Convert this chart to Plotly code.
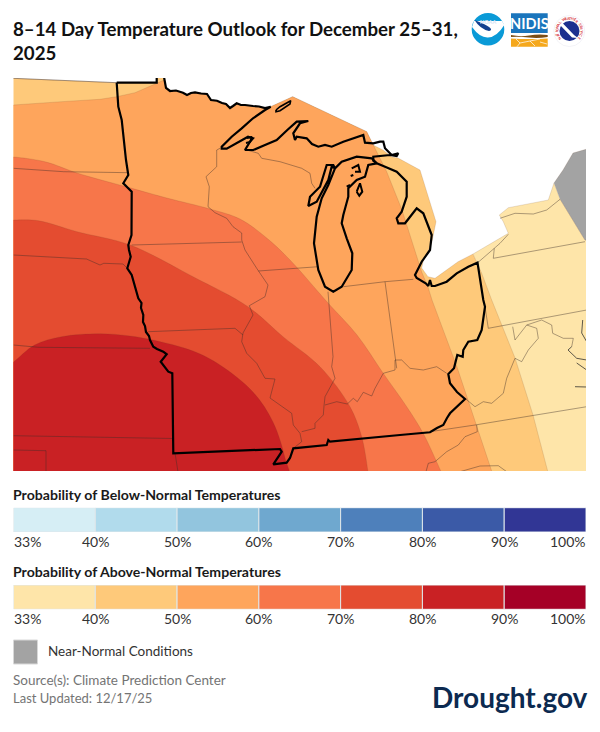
import math
import plotly.graph_objects as go

# legend scales
scale_labels = ["33%", "40%", "50%", "60%", "70%", "80%", "90%", "100%"]
scale_steps = [1, 1, 1, 1, 1, 1, 1]
below_colors = ["#d6eef5", "#b1dbec", "#92c5de", "#6fa8cf", "#4e80bb", "#3b5aa7", "#313695"]
above_colors = ["#fee5a9", "#fec97a", "#fea55c", "#f7764a", "#e44c30", "#c92124", "#a50026"]
near_normal_color = "#a3a3a3"

# north shore of Minnesota, shared by the outlook areas
mn_shore = [(156.7, 72.7), (161.7, 71.7), (164, 77), (166, 88), (170, 91), (176, 90.5), (183, 92.7), (187, 95), (191, 93),
            (195, 92.3), (201, 93.5), (207, 94), (209, 97), (211, 100), (217, 100.7), (222, 103), (226, 104), (230, 108),
            (233, 106), (236.7, 103.3), (241, 105), (245, 105), (253, 106), (259, 106.5), (265, 108), (270.7, 106.7)]

area_33 = [(473, 254), (508.3, 233.3), (503.3, 221.7), (499.3, 215), (508.3, 207.7), (548.3, 200), (554, 183),
           (560, 199), (585, 240), (600, 243), (600, 480), (500, 480), (480, 270)]
area_40 = [(5, 78), (13, 78.3), (116.7, 82.7), (156.7, 82.7)] + mn_shore + [
    (292.7, 96.7), (366.7, 131.7), (373, 145), (383, 150), (392, 157), (398, 158), (420, 170), (436, 221.7),
    (431.7, 243), (423, 262), (421.7, 268), (428, 276.7), (435, 278.3), (458, 261.7), (473, 254), (481.7, 273.3),
    (491.7, 300), (515, 358), (533, 415), (548, 470), (550, 480), (5, 480)]
area_50 = [(5, 106), (13.5, 105), (61.5, 101.7), (100, 99.3), (116.7, 96.7), (135, 92.7), (156.7, 83.3), (164, 80),
           (166, 88)] + mn_shore[4:] + [
    (292.7, 96.7), (366.7, 131.7), (386.7, 171.7), (402, 210), (421.7, 272), (428, 287), (432, 300), (457, 367),
    (492, 472), (492, 480), (5, 480)]
area_60 = [(5, 157), (13.5, 157), (46, 162), (77, 173), (131.7, 188.3), (166.7, 198), (210, 209), (240, 219),
           (266.7, 238), (290, 260), (328, 303), (357, 335), (383, 373), (406.7, 406.7), (423, 433), (441.7, 473),
           (445, 480), (5, 480)]
area_70 = [(5, 220), (13.5, 220), (38.5, 220.7), (77, 231.7), (130, 245), (193, 276.7), (248, 306.7), (283, 336.7),
           (320, 366.7), (350, 406.7), (361.7, 436.7), (368, 471.7), (369, 480), (5, 480)]
area_80 = [(5, 368), (13.5, 362), (34.6, 345), (61.5, 336.7), (100, 333.7), (130, 336), (153, 340), (193, 351),
           (220, 365), (253, 392), (273, 422), (285, 458), (288, 480), (5, 480)]
near_normal_area = [(554, 183), (563, 170), (573, 153), (586, 149.3), (600, 149), (600, 243), (585, 240), (560, 199)]

# thin state and shore lines
state_lines = [
    [(13, 78.3), (117, 82.7)],
    [(13.5, 168.3), (63.5, 171.7), (129, 172.7)],
    [(220, 148.3), (216.7, 150), (216.7, 166.7), (206, 176.7), (209.3, 186.7), (208, 206.7), (215, 212.7),
     (226.7, 218.3), (233, 226.7), (241.7, 233), (241.7, 240), (245, 250), (256.7, 268.3), (268, 285),
     (265, 296.7), (249.3, 305.7), (253, 315), (243, 333), (241.7, 341.7), (246.7, 353.3), (256.7, 363.3),
     (265, 378.3), (275, 379), (270, 398), (291.7, 413.3), (293.3, 425), (300, 433.3), (301.7, 441.7), (293.3, 448.3)],
    [(131.7, 245), (241.7, 242)],
    [(148.3, 331.7), (235, 328.3), (243, 335)],
    [(13.5, 255), (86.5, 259), (100, 265), (103.8, 263.3), (123, 264), (129, 270)],
    [(13.5, 345), (38.5, 347.3), (150, 348.3)],
    [(13.5, 435.7), (173, 438.5)],
    [(13.5, 450), (46, 450.7), (46, 472)],
    [(175, 453), (178, 472)],
    [(328, 291.7), (330, 320), (333, 356.7), (331.7, 366.7), (335, 378.3), (325, 396.7), (324, 406)],
    [(258.3, 271), (318.3, 266.7)],
    [(343.3, 286.7), (385, 281.7), (413.3, 279.3)],
    [(385, 281.7), (395, 360), (396.7, 368.3)],
    [(246.7, 150), (258.3, 153.3), (261.7, 158.3), (280, 161.7), (301.7, 168.3), (310, 173.3), (311.7, 183.3), (315, 188.3)],
    [(325, 405), (336.7, 401.7), (347.3, 404), (353.3, 398.3), (357.3, 401.7), (363.3, 392.3), (371.7, 396),
     (375, 388.3), (383.3, 373.3), (395, 370), (395, 360), (401.7, 360), (410, 368.3), (423.3, 370), (436.7, 366.7),
     (446.7, 373.3)],
    [(324, 406), (323.3, 415), (315, 423.3), (315, 428.3), (301.7, 431.7)],
    [(465, 398.3), (475, 406.7), (483.3, 401.7), (491.7, 403.3), (503.3, 393.3), (506.7, 378.3), (515, 358.3),
     (521.7, 361.7), (528.3, 350), (538.3, 338.3), (536.7, 328.3), (526.7, 325), (515, 340), (512.7, 326.7)],
    [(485, 306.7), (488.3, 328.3), (586.7, 310)],
    [(526.7, 325), (541.7, 320), (551.7, 325), (552.7, 333.3), (563.3, 338.3), (573.3, 338.3), (571.7, 346.7)],
    [(430, 431.7), (475, 425), (586.7, 406.7)],
    [(476.7, 425), (477.3, 431.7), (465, 436.7), (458.3, 445), (446.7, 451.7), (435, 461.7), (428.3, 463.3), (426, 471.7)],
    [(460, 471.7), (480, 466), (498.3, 465.7), (506.7, 471.7)],
    [(493.3, 258.3), (585, 241.7)],
    [(493.3, 258.3), (494.3, 248.3), (500, 243.3), (508.3, 234.3)],
    [(477.7, 262.7), (486.7, 255), (494.3, 248.3)],
    [(500, 218.3), (515, 213.3), (533.3, 214), (546.7, 210), (560, 199.3)],
]
east_coast_lines = [
    [(571.7, 346.7), (568, 350), (576.7, 358.3), (586.7, 360)],
    [(582.7, 320), (581.7, 333), (586.7, 341.7)],
    [(576.7, 363), (586.7, 370)],
    [(575, 386.7), (586.7, 387)],
]

# heavy outline of the Midwest states
midwest_outline = [(116.7, 82.7), (156.7, 82.7)] + mn_shore + [
    (265, 110), (253, 118.3), (241.7, 128.3), (231.7, 136.7), (221.7, 146.7), (221.7, 148.7), (226.7, 148.7),
    (243.3, 140), (248, 136.7), (253, 138.3), (250, 141.7), (245, 150), (253.3, 150), (265, 145), (276.7, 140),
    (287.3, 130), (296.7, 121.7), (308.3, 121), (300, 123.3), (293.3, 133.3), (295, 140), (296.7, 136.7),
    (306.7, 138.3), (312, 144), (318.3, 146.7), (325, 145), (331.7, 146.7), (343.3, 141.7), (363.3, 135), (365, 142.7),
    (373.3, 143.3), (380, 141.7), (383.3, 141.7), (385, 148.3), (391.7, 155), (398.3, 153.3), (396.7, 156), (390, 155),
    (373.3, 156.7), (373.3, 160.7), (376.7, 163.3), (383.3, 166), (396.7, 171.7), (406.7, 181.7), (406.7, 196.7),
    (401.7, 211.7), (396.7, 218.3), (398.3, 223.3), (405, 223.3), (416.7, 208.3), (423.3, 213.3), (431.7, 235),
    (430, 250), (421.7, 261.7), (415, 275), (416.7, 278), (425.7, 283.3), (428.3, 286), (430, 280), (431.7, 286),
    (435, 286), (446.7, 281.7), (456.7, 273.3), (468.3, 266.7), (477.5, 262.7), (483.3, 300), (485, 306.7),
    (481.7, 330), (477.3, 340), (468.3, 341.7), (463.3, 350), (462.7, 356.7), (457.3, 355), (454, 368.3),
    (448.3, 374), (450, 383.3), (457, 392), (465, 399), (450, 413.3), (447, 418), (443.3, 425), (437, 428), (430, 432.3),
    (400, 435), (330, 441.7), (328.3, 440), (326.7, 445), (293.3, 448.3), (290, 458), (286.7, 462.7), (273.3, 464.3),
    (281.7, 451.7), (280, 449), (173.3, 453.3), (172.3, 373.3), (168.3, 371.7), (160.7, 361.7), (166.7, 354.3),
    (163.3, 351.7), (157, 349), (153.3, 346.7), (150, 340), (149, 336), (146, 332), (145, 326), (143, 322), (143.3, 315),
    (141, 308), (141.5, 303), (138.3, 298.3), (136, 290), (134, 282), (131.7, 275), (127.3, 268.3), (129, 262),
    (130.7, 256.7), (129, 250), (128.3, 245), (131.5, 235), (131.7, 191.7), (123.3, 183.3), (128.3, 175), (126, 160),
    (121.7, 120), (118.3, 106.7), (116.7, 82.7)]
lake_michigan = [(376.7, 163.3), (368.3, 165), (365, 176.7), (356.7, 180), (348.3, 188.3), (348.3, 196.7), (343.3, 215),
                 (341.7, 223.3), (346.7, 238.3), (352.3, 253.3), (351.7, 270), (341.7, 286.7), (333.3, 291.7),
                 (325, 286.7), (318.3, 270), (316.7, 260), (314, 243.3), (316.7, 216.7), (321.7, 198.3), (328.3, 185),
                 (335, 168.3), (331.7, 166.7), (328.3, 180), (316.7, 201.7), (308.3, 206), (310, 196.7), (320, 186.7),
                 (326.7, 165), (333.3, 165), (335, 168.3), (341.7, 161.7), (356.7, 156.7), (371.7, 158.3), (376.7, 163.3)]
isle_royale = [(276, 110), (280, 106.7), (290.7, 100.7), (290, 104), (280, 110.7), (276, 111.7), (276, 110)]
small_islands = [
    [(351.7, 168.3), (358.3, 165), (360, 171.7), (355, 171.7)],
    [(350.7, 176), (353.3, 175)],
    [(346.7, 186.7), (350, 185)],
    [(356.7, 191.7), (360, 183.3), (362.3, 191.7), (359.3, 195.7), (356.7, 191.7)],
    [(247, 138), (252, 137), (250, 142), (246, 143)],
]

# map axes run in picture pixels, since the outlines were traced from it
MAP_X = [13.5, 586]
MAP_Y = [471, 78]
PAGE_W, PAGE_H = 600, 732
FONT = "Lato"


def line_trace(points, color, width, shape="linear"):
    return go.Scatter(x=[p[0] for p in points], y=[p[1] for p in points], mode="lines",
                      line=dict(color=color, width=width, shape=shape), hoverinfo="skip", showlegend=False,
                      xaxis="x", yaxis="y")


def area_trace(points, color, shape="linear"):
    t = line_trace(points, "rgba(110,70,40,0.25)", 0.6, shape)
    t.fill = "toself"
    t.fillcolor = color
    return t


fig = go.Figure()

fig.add_trace(area_trace(area_33, above_colors[0]))
fig.add_trace(area_trace(near_normal_area, near_normal_color))
fig.add_trace(area_trace(area_40, above_colors[1]))
fig.add_trace(area_trace(area_50, above_colors[2]))
fig.add_trace(area_trace(area_60, above_colors[3], "spline"))
fig.add_trace(area_trace(area_70, above_colors[4], "spline"))
fig.add_trace(area_trace(area_80, above_colors[5], "spline"))

for seg in state_lines:
    fig.add_trace(line_trace(seg, "rgba(60,45,40,0.42)", 1))
for seg in east_coast_lines:
    fig.add_trace(line_trace(seg, "rgba(40,40,40,0.75)", 1))
fig.add_trace(line_trace(midwest_outline, "#000000", 2.2))
fig.add_trace(line_trace(lake_michigan, "#000000", 2.2))
fig.add_trace(line_trace(isle_royale, "#000000", 1.6))
for seg in small_islands:
    fig.add_trace(line_trace(seg, "#000000", 2))

# the two probability scales
for colors, xa, ya in [(below_colors, "x2", "y2"), (above_colors, "x3", "y3")]:
    fig.add_trace(go.Bar(x=scale_steps, y=[0] * len(scale_steps), base=list(range(len(scale_steps))),
                         orientation="h", width=1, marker=dict(color=colors, line=dict(color="#dfe7ea", width=1)),
                         hoverinfo="skip", showlegend=False, xaxis=xa, yaxis=ya))

# near-normal key, on the page axes
fig.add_trace(go.Scatter(x=[25.5], y=[652], mode="markers",
                         marker=dict(symbol="square", size=24, color=near_normal_color,
                                     line=dict(color="#d8d8d8", width=1)),
                         hoverinfo="skip", showlegend=False, xaxis="x4", yaxis="y4"))


def page_text(text, x, y, size, color, weight=400, anchor="left", angle=0):
    fig.add_annotation(text=text, x=x, y=y, xref="x4", yref="y4", xanchor=anchor, yanchor="middle", showarrow=False,
                       textangle=angle, font=dict(family=FONT, size=size, color=color, weight=weight),
                       borderpad=0, borderwidth=0)


page_text("Probability of Below-Normal Temperatures", 13, 494.5, 14.1, "#1a1a1a", 700)
page_text("Probability of Above-Normal Temperatures", 13, 571, 14.1, "#1a1a1a", 700)
for i, label in enumerate(scale_labels):
    anchor = "left" if i == 0 else "right" if i == len(scale_labels) - 1 else "center"
    for xa, y in [("x2", 541.7), ("x3", 618)]:
        fig.add_annotation(text=label, x=i, y=y, xref=xa, yref="y4", xanchor=anchor, yanchor="middle",
                           showarrow=False, borderpad=0, borderwidth=0,
                           font=dict(family=FONT, size=14, color="#333333"))
page_text("Near-Normal Conditions", 48, 650.5, 13.5, "#333333")
page_text("Source(s): Climate Prediction Center", 13, 680, 13.5, "#747474")
page_text("Last Updated: 12/17/25", 13, 698, 13, "#747474")
page_text("Drought.gov", 588, 697, 28, "#0c2a50", 700, anchor="right")

# logos
logo_shapes = [
    # NOAA
    dict(type="circle", x0=471.7, x1=504.3, y0=12.9, y1=45.5, fillcolor="#0a9ad7", line_width=0),
    dict(type="path", path="M472,27 Q480,38 488,37.5 Q497,37 504.3,25 L502,21 L474,21 Z", fillcolor="#ffffff", line_width=0),
    dict(type="path", path="M474.5,20 A16.3,16.3 0 0 1 501.5,20 Q497,29 489,31 Q480,29 474.5,20 Z", fillcolor="#12408f", line_width=0),
    # NIDIS
    dict(type="rect", x0=511, x1=547.7, y0=13.3, y1=46.7, fillcolor="#ffffff", line_width=0),
    dict(type="rect", x0=511, x1=547.7, y0=13.3, y1=33, fillcolor="#1a75bc", line_width=0),
    dict(type="path", path="M511,35 Q520,37 529,35.5 T547.7,35 L547.7,37 Q538,38.5 529,37.5 T511,37 Z", fillcolor="#7a4d14", line_width=0),
    dict(type="path", path="M511,38.5 Q529,39.5 547.7,38.5 L547.7,46.7 L511,46.7 Z", fillcolor="#f5a81c", line_width=0),
    dict(type="path", path="M516,39 L520,43 L517,46.7 M520,43 L530,41 L535,46 M530,41 L540,39 M540,42 L547,44",
         line=dict(color="#ffffff", width=0.7)),
    # NWS
    dict(type="circle", x0=553.8, x1=584.8, y0=15.5, y1=46.5, fillcolor="#ffffff", line=dict(color="#e6e6ee", width=0.5)),
    dict(type="circle", x0=559.5, x1=579.5, y0=21, y1=41, fillcolor="#1c2f8f", line_width=0),
    dict(type="path", path="M562,22.5 L574,35 L578,38 L572,37.5 L560,25 Z", fillcolor="#ffffff", line_width=0),
]
page_text("NOAA", 488, 22, 5.5, "#d6e4f5", 700, anchor="center")
page_text("NIDIS", 529.3, 23.5, 14.5, "#ffffff", 700, anchor="center")

# ring lettering of the NWS seal
ring_text = "NATIONAL WEATHER SERVICE"
for i, ch in enumerate(ring_text):
    a = math.radians(-125 + i * 250 / (len(ring_text) - 1))
    page_text(ch, 569.3 + 12.7 * math.sin(a), 31 - 12.7 * math.cos(a), 3.6, "#d4282e", 700, anchor="center",
              angle=math.degrees(a))

hidden = dict(visible=False, fixedrange=True)
fig.update_layout(
    width=PAGE_W, height=PAGE_H, margin=dict(l=0, r=0, t=0, b=0),
    paper_bgcolor="#ffffff", plot_bgcolor="rgba(0,0,0,0)", showlegend=False,
    title=dict(text="8–14 Day Temperature Outlook for December 25–31,<br>2025", x=13 / PAGE_W, xanchor="left",
               y=1 - 36 / PAGE_H, yanchor="top", font=dict(family=FONT, size=18.7, color="#111111", weight=700)),
    xaxis=dict(hidden, domain=[MAP_X[0] / PAGE_W, MAP_X[1] / PAGE_W], range=MAP_X),
    yaxis=dict(hidden, domain=[1 - MAP_Y[0] / PAGE_H, 1 - MAP_Y[1] / PAGE_H], range=MAP_Y),
    xaxis2=dict(hidden, domain=[13.5 / PAGE_W, 586 / PAGE_W], range=[0, 7], anchor="y2"),
    yaxis2=dict(hidden, domain=[1 - 532 / PAGE_H, 1 - 507.7 / PAGE_H], range=[-0.5, 0.5], anchor="x2"),
    xaxis3=dict(hidden, domain=[13.5 / PAGE_W, 586 / PAGE_W], range=[0, 7], anchor="y3"),
    yaxis3=dict(hidden, domain=[1 - 609.3 / PAGE_H, 1 - 585 / PAGE_H], range=[-0.5, 0.5], anchor="x3"),
    xaxis4=dict(hidden, domain=[0, 1], range=[0, PAGE_W], anchor="y4"),
    yaxis4=dict(hidden, domain=[0, 1], range=[PAGE_H, 0], anchor="x4"),
    shapes=[dict(s, xref="x4", yref="y4") for s in logo_shapes],
)

fig.write_html("out.html", config=dict(displayModeBar=False), post_script="document.body.style.margin='0';")
